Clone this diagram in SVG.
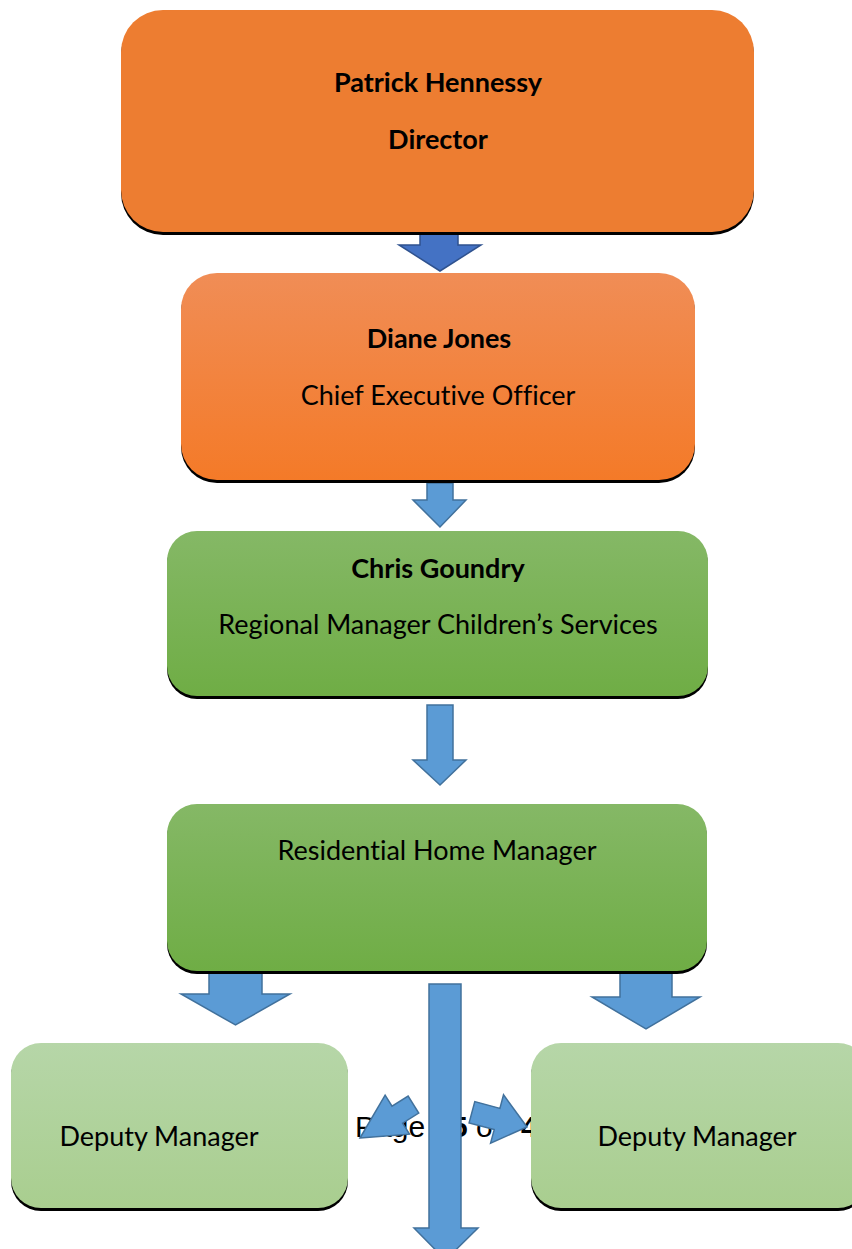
<svg xmlns="http://www.w3.org/2000/svg" width="852" height="1249" viewBox="0 0 852 1249">
  <defs>
    <linearGradient id="gOrange" x1="0" y1="0" x2="0" y2="1">
      <stop offset="0" stop-color="#F08D56"/>
      <stop offset="1" stop-color="#F47A28"/>
    </linearGradient>
    <linearGradient id="gGreen" x1="0" y1="0" x2="0" y2="1">
      <stop offset="0" stop-color="#85B866"/>
      <stop offset="1" stop-color="#6FAD45"/>
    </linearGradient>
    <linearGradient id="gLight" x1="0" y1="0" x2="0" y2="1">
      <stop offset="0" stop-color="#B6D6A8"/>
      <stop offset="1" stop-color="#A9CE8F"/>
    </linearGradient>
    <style>
      .shadow { fill: #000000; }
      .t { font-family: Lato, "Liberation Sans", sans-serif; font-size: 27px; fill: #000000; text-anchor: middle; font-variant-ligatures: none; }
      .b { font-weight: bold; }
      .arrow { fill: #5B9BD5; stroke: #41719C; stroke-width: 1.5; stroke-linejoin: miter; }
      .arrow-dark { fill: #4472C4; stroke: #2F528F; stroke-width: 1.5; }
      .page { font-family: "Liberation Sans", Arial, sans-serif; font-size: 30px; fill: #000000; }
    </style>
  </defs>

  <rect width="852" height="1249" fill="#FFFFFF"/>

  <!-- footer page number, partly covered by the shapes drawn after it -->
  <g id="page-number">
    <text class="page" y="1137"><tspan x="355">Page</tspan><tspan x="451" font-weight="bold">5</tspan><tspan x="476">of</tspan><tspan x="521" font-weight="bold">4</tspan></text>
  </g>

  <!-- block arrows -->
  <g id="connectors">
    <polygon class="arrow-dark" points="420,228 458,228 458,245 481,245 440,271 399,245 420,245"/>
    <polygon class="arrow" points="427,483 453,483 453,500 466,500 440,527 413,500 427,500"/>
    <polygon class="arrow" points="427,705 453,705 453,760 466,760 440,785 413,760 427,760"/>
    <polygon class="arrow" points="209,972 262,972 262,994 290,994 235.5,1025 181,994 209,994"/>
    <polygon class="arrow" points="620,972 672,972 672,997 700,997 646,1029 592,997 620,997"/>
    <polygon class="arrow" points="429,984 461,984 461,1228 478,1228 445.5,1260 414,1228 429,1228"/>
    <polygon class="arrow" transform="translate(360,1138) rotate(148)" points="0,0 -44,-23 -44,-10 -63,-10 -63,10 -44,10 -44,23"/>
    <polygon class="arrow" transform="translate(527,1127) rotate(15)" points="0,0 -31,-25 -31,-11 -57,-11 -57,11 -31,11 -31,25"/>
  </g>

  <g id="director">
    <rect class="shadow" x="121" y="13" width="633" height="222" rx="42"/>
    <rect x="121" y="10" width="633" height="222" rx="42" fill="#ED7D31"/>
    <text class="t b" x="438" y="92">Patrick Hennessy</text>
    <text class="t b" x="438" y="149">Director</text>
  </g>

  <g id="ceo">
    <rect class="shadow" x="181" y="276" width="514" height="207" rx="36"/>
    <rect x="181" y="273" width="514" height="207" rx="36" fill="url(#gOrange)"/>
    <text class="t b" x="439" y="348">Diane Jones</text>
    <text class="t" x="438" y="405">Chief Executive Officer</text>
  </g>

  <g id="regional-manager">
    <rect class="shadow" x="167" y="534" width="541" height="165" rx="30"/>
    <rect x="167" y="531" width="541" height="165" rx="30" fill="url(#gGreen)"/>
    <text class="t b" x="438" y="578">Chris Goundry</text>
    <text class="t" x="438" y="634">Regional Manager Children’s Services</text>
  </g>

  <g id="home-manager">
    <rect class="shadow" x="167" y="807" width="540" height="167" rx="30"/>
    <rect x="167" y="804" width="540" height="167" rx="30" fill="url(#gGreen)"/>
    <text class="t" x="437" y="860">Residential Home Manager</text>
  </g>

  <g id="deputy-left">
    <rect class="shadow" x="11" y="1046" width="337" height="165" rx="30"/>
    <rect x="11" y="1043" width="337" height="165" rx="30" fill="url(#gLight)"/>
    <text class="t" x="159" y="1146">Deputy Manager</text>
  </g>

  <g id="deputy-right">
    <rect class="shadow" x="531" y="1046" width="337" height="165" rx="30"/>
    <rect x="531" y="1043" width="337" height="165" rx="30" fill="url(#gLight)"/>
    <text class="t" x="697" y="1146">Deputy Manager</text>
  </g>
</svg>
